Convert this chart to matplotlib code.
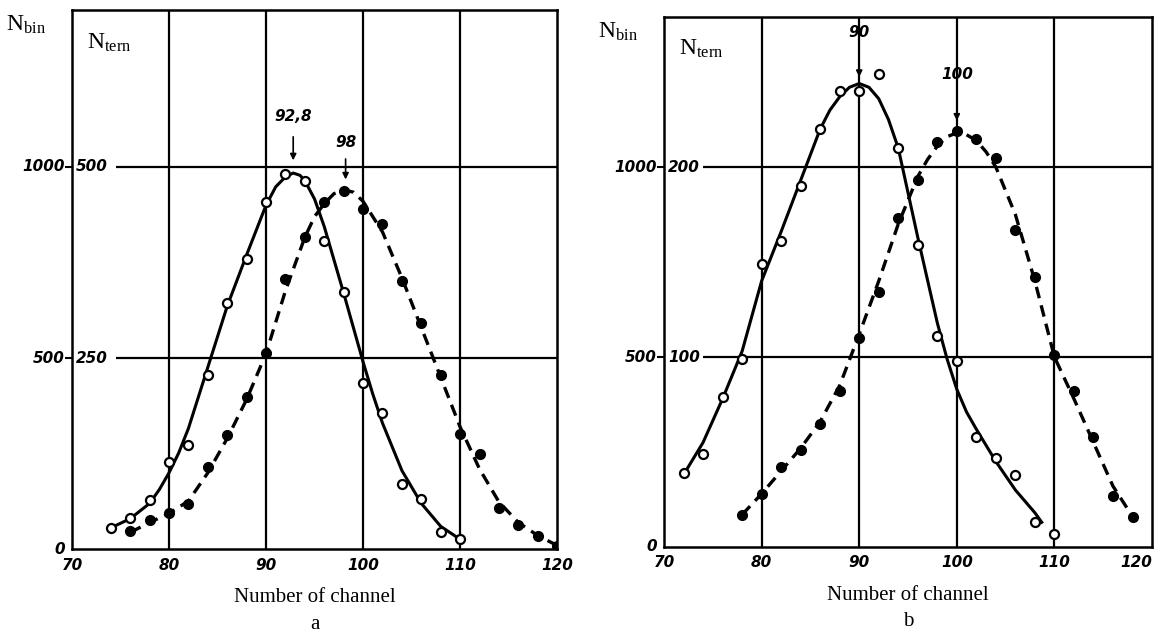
import matplotlib
matplotlib.use("Agg")
import matplotlib.pyplot as plt

plt.rcParams["mathtext.fontset"] = "custom"
plt.rcParams["mathtext.rm"] = "Liberation Serif"
plt.rcParams["mathtext.it"] = "Liberation Serif:italic"

# panel a: measured points (N_tern scale)
a_ch_open = [74, 76, 78, 80, 82, 84, 86, 88, 90, 92, 94, 96, 98, 100, 102, 104, 106, 108, 110]
a_open = [28, 41, 64, 114, 137, 228, 322, 380, 454, 491, 482, 403, 337, 218, 178, 85, 66, 22, 13]
a_ch_fill = [76, 78, 80, 82, 84, 86, 88, 90, 92, 94, 96, 98, 100, 102, 104, 106, 108, 110, 112, 114, 116, 118, 120]
a_fill = [24, 38, 47, 59, 107, 149, 199, 257, 354, 408, 454, 468, 445, 426, 351, 296, 228, 151, 124, 54, 32, 17, 4]

# panel a: drawn curves
a_cv_ch_open = [74, 76, 78, 79, 80, 81, 82, 84, 86, 88, 90, 91, 92, 92.8, 93.5, 94, 95, 96, 98, 100,
                101, 102, 104, 106, 108, 110]
a_cv_open = [28, 40, 60, 78, 100, 126, 158, 238, 318, 385, 450, 474, 487, 492, 489, 482, 458, 422, 335, 245,
             203, 165, 103, 60, 30, 13]
a_cv_ch_fill = [76, 78, 80, 82, 84, 86, 88, 90, 92, 94, 95, 96, 97, 98, 99, 100, 102, 104, 106, 108, 110,
                112, 114, 116, 118, 120]
a_cv_fill = [22, 35, 47, 63, 100, 145, 196, 256, 338, 408, 435, 452, 465, 470, 467, 455, 415, 355, 290, 225,
             160, 105, 62, 35, 18, 5]

# panel b: measured points (N_tern scale)
b_ch_open = [72, 74, 76, 78, 80, 82, 84, 86, 88, 90, 92, 94, 96, 98, 100, 102, 104, 106, 108, 110]
b_open = [39, 49, 79, 99, 149, 161, 190, 220, 240, 240, 249, 210, 159, 111, 98, 58, 47, 38, 13, 7]
b_ch_fill = [78, 80, 82, 84, 86, 88, 90, 92, 94, 96, 98, 100, 102, 104, 106, 108, 110, 112, 114, 116, 118]
b_fill = [17, 28, 42, 51, 65, 82, 110, 134, 173, 193, 213, 219, 215, 205, 167, 142, 101, 82, 58, 27, 16]

# panel b: drawn curves
b_cv_ch_open = [72, 74, 76, 78, 80, 82, 84, 86, 87, 88, 89, 90, 91, 92, 93, 94, 96, 98, 99, 100, 101, 102,
                104, 106, 108, 108.7]
b_cv_open = [38, 55, 78, 103, 140, 166, 193, 220, 230, 237, 242, 244, 242, 236, 225, 210, 163, 118, 99, 83,
             71, 62, 45, 30, 18, 13]
b_cv_ch_fill = [78, 80, 82, 84, 86, 88, 90, 92, 94, 96, 97, 98, 99, 100, 101, 102, 103, 104, 106, 108, 110,
                112, 114, 116, 118]
b_cv_fill = [17, 28, 40, 52, 66, 85, 112, 140, 170, 195, 204, 211, 216, 218, 217, 214, 208, 200, 175, 140,
             100, 78, 55, 32, 16]

serif = "Liberation Serif"
tickfont = dict(family="DejaVu Sans", style="italic", weight="bold", size=11)

fig = plt.figure(figsize=(11.59, 6.35), dpi=100)


def panel(rect, ymax, yt, ylab_bin, ylab_tern, grid_x0,
          ch_o, v_o, ch_f, v_f, cch_o, cv_o, cch_f, cv_f, letter, notes, last_right):
    ax = fig.add_axes(rect)
    ax.set_xlim(70, 120)
    ax.set_ylim(0, ymax)
    for s in ax.spines.values():
        s.set_linewidth(1.8)
    for x in [80, 90, 100, 110]:
        ax.axvline(x, color="k", lw=1.6, zorder=1)
    for y in yt[1:]:
        ax.hlines(y, grid_x0, 120, color="k", lw=1.6, zorder=1)
    ax.plot(cch_o, cv_o, color="k", lw=2.2, zorder=2, solid_joinstyle="round")
    ax.plot(cch_f, cv_f, color="k", lw=2.4, ls=(0, (3.5, 2.2)), zorder=2)
    ax.plot(ch_o, v_o, "o", ms=6.5, mfc="white", mec="k", mew=1.6, zorder=3)
    ax.plot(ch_f, v_f, "o", ms=7, mfc="k", mec="k", zorder=3)

    ax.set_xticks([70, 80, 90, 100, 110, 120])
    ax.set_xticklabels(["70", "80", "90", "100", "110", "120"], fontdict=tickfont)
    if last_right:
        ax.get_xticklabels()[-1].set_horizontalalignment("right")
    ax.tick_params(axis="x", length=0, pad=6)
    ax.set_yticks(yt[1:])
    ax.set_yticklabels([])
    ax.tick_params(axis="y", length=5, width=1.5, direction="out")

    for y, lb, lt in zip(yt, ylab_bin, ylab_tern):
        ax.annotate(lb, (70, y), xytext=(-5, 0), textcoords="offset points",
                    ha="right", va="center", annotation_clip=False, **tickfont)
        if lt:
            ax.annotate(lt, (70, y), xytext=(3, 0), textcoords="offset points",
                        ha="left", va="center", annotation_clip=False, **tickfont)

    ax.text(-0.135, 0.972, r"N$_{\rm bin}$", transform=ax.transAxes, fontsize=17,
            family=serif, ha="left", va="center")
    ax.text(0.03, 0.94, r"N$_{\rm tern}$", transform=ax.transAxes, fontsize=17,
            family=serif, ha="left", va="center")
    ax.set_xlabel("Number of channel", family=serif, fontsize=15, labelpad=11)
    ax.text(0.5, -0.14, letter, transform=ax.transAxes, family=serif,
            fontsize=15, ha="center", va="center")

    for x, ytxt, y0, y1, txt in notes:
        ax.text(x, ytxt, txt, ha="center", va="center", **tickfont)
        ax.annotate("", xy=(x, y1), xytext=(x, y0),
                    arrowprops=dict(arrowstyle="-|>", color="k", lw=1.2,
                                    mutation_scale=9))
    return ax


panel([0.0621, 0.135, 0.4186, 0.849], 705, [0, 250, 500],
      ["0", "500", "1000"], ["", "250", "500"], 74.5,
      a_ch_open, a_open, a_ch_fill, a_fill,
      a_cv_ch_open, a_cv_open, a_cv_ch_fill, a_cv_fill, "a",
      [(92.8, 566, 543, 505, "92,8"), (98.2, 532, 514, 480, "98")], False)

panel([0.5729, 0.1386, 0.4211, 0.8346], 279, [0, 100, 200],
      ["0", "500", "1000"], ["", "100", "200"], 74,
      b_ch_open, b_open, b_ch_fill, b_fill,
      b_cv_ch_open, b_cv_open, b_cv_ch_fill, b_cv_fill, "b",
      [(90, 271, 256, 246, "90"), (100, 249, 241, 223, "100")], True)

fig.savefig("out.png", dpi=100)
